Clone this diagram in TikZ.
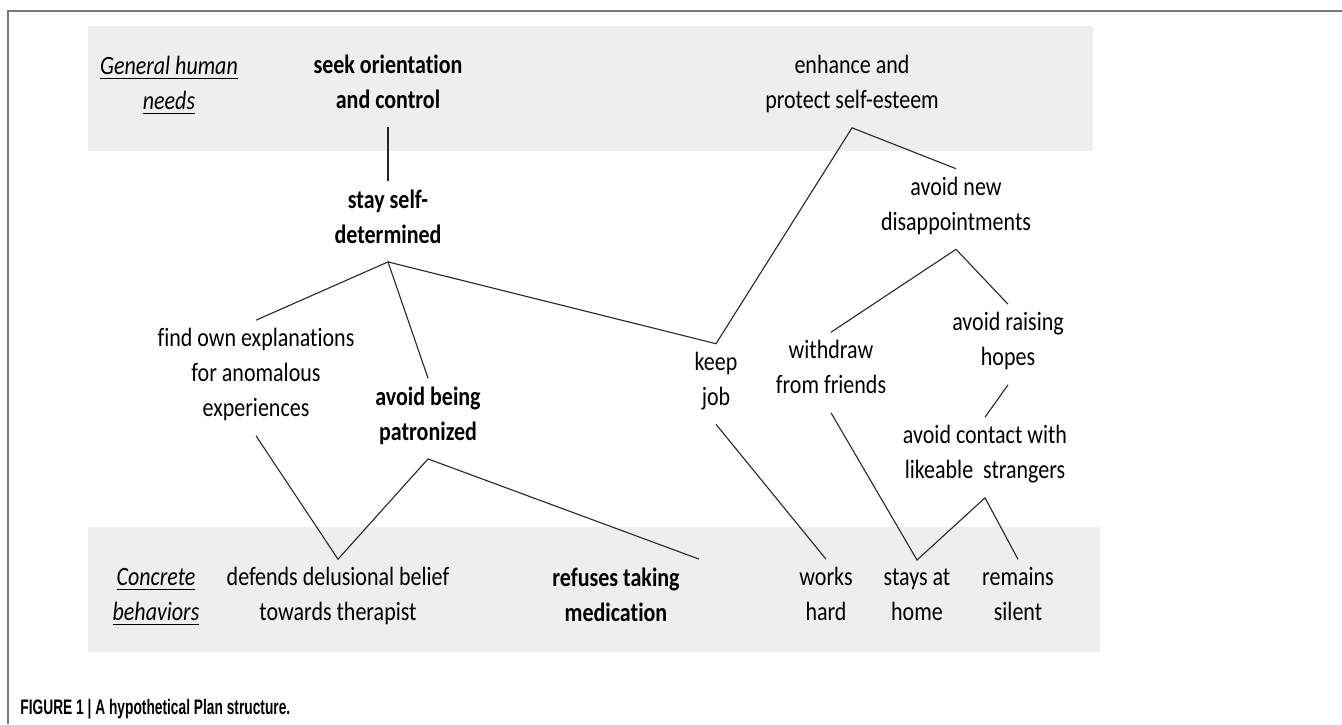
\documentclass[tikz,border=0pt]{standalone}
\usepackage{fontspec}
\setmainfont{Carlito}[FakeStretch=0.833, Ligatures={NoCommon}]
\newfontfamily\capfont[FakeStretch=0.655]{Liberation Sans}
\definecolor{framegray}{RGB}{120,120,120}
\definecolor{bandgray}{RGB}{238,238,238}
% underline with a slightly heavier bar
\newcommand{\ulbar}[1]{\setbox0\hbox{#1}\rlap{\rule[-2.4pt]{\wd0}{0.8pt}}\box0}

\begin{document}
\begin{tikzpicture}[x=0.5pt, y=-0.5pt,
    plan/.style={align=center, inner sep=4pt, font=\fontsize{13.2}{17.5}\selectfont,
      execute at begin node=\strut, execute at end node=\strut},
    planb/.style={plan, font=\fontsize{13.2}{17.5}\selectfont\bfseries},
    lvl/.style={plan, font=\fontsize{13.2}{17.5}\selectfont\itshape},
    link/.style={line width=0.55pt, black!85}]
  \useasboundingbox (0,0) rectangle (1342,724);

  % Frame and level bands
  \draw[line width=1pt, framegray] (8,724) -- (8,11) -- (1342,11);
  \fill[bandgray] (88,26) rectangle (1093,151);
  \fill[bandgray] (88,527) rectangle (1100,652);

  % Level labels
  \node[lvl] (needs) at (169,88) {\ulbar{General human}\\\ulbar{needs}};
  \node[lvl] (behav) at (156,599.5) {\ulbar{Concrete}\\\ulbar{behaviors}};

  % Plans
  \node[planb] (seek) at (388,86.5) {seek orientation\\and control};
  \node[plan] (enhance) at (852,87.5) {enhance and\\protect self-esteem};
  \node[planb] (stay) at (388,221.5) {stay self-\\determined};
  \node[plan] (avoidnew) at (956,209) {avoid new\\disappointments};
  \node[plan] (find) at (256,378) {find own explanations\\for anomalous\\experiences};
  \node[planb] (patron) at (428,418.5) {avoid being\\patronized};
  \node[plan] (keep) at (716,384) {keep\\job};
  \node[plan] (withdraw) at (831,372.5) {withdraw\\from friends};
  \node[plan] (raising) at (1008,344.5) {avoid raising\\hopes};
  \node[plan] (contact) at (985,457.5) {avoid contact with\\likeable~ strangers};

  % Behaviors
  \node[plan] (defends) at (338,599.5) {defends delusional belief\\towards therapist};
  \node[planb] (refuse) at (616,599.5) {refuses taking\\medication};
  \node[plan] (works) at (826,599.5) {works\\hard};
  \node[plan] (stays) at (917,599.5) {stays at\\home};
  \node[plan] (remains) at (1018,599.5) {remains\\silent};

  % Links
  \draw[link] (seek.south) -- (stay.north);
  \draw[link] (find.north) -- (stay.south) -- (patron.north);
  \draw[link] (stay.south) -- (keep.north) -- (enhance.south) -- (avoidnew.north);
  \draw[link] (withdraw.north) -- (avoidnew.south) -- (raising.north);
  \draw[link] (raising.south) -- (contact.north);
  \draw[link] (find.south) -- (defends.north) -- (patron.south) -- ([xshift=41.5pt]refuse.north);
  \draw[link] (keep.south) -- (works.north);
  \draw[link] (withdraw.south) -- (stays.north) -- (contact.south) -- (remains.north);

  % Caption
  \node[anchor=west, inner sep=0pt, font=\capfont\bfseries\fontsize{10.5}{12}\selectfont] (caption) at (20,709) {FIGURE 1 | A hypothetical Plan structure.};
\end{tikzpicture}
\end{document}
